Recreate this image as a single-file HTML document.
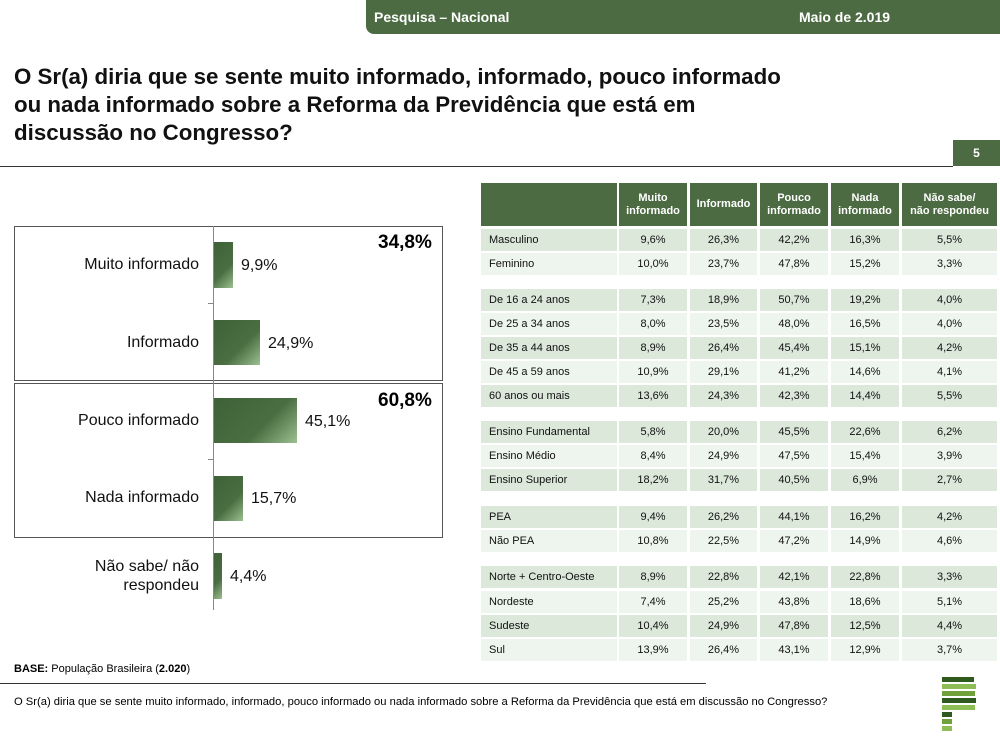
<!DOCTYPE html><html><head><meta charset="utf-8"><style>
body{margin:0;width:1000px;height:736px;position:relative;background:#fff;font-family:"Liberation Sans",sans-serif;overflow:hidden}
.a{position:absolute}
.hdr{left:366px;top:0;width:634px;height:34px;background:#4c6b42;border-bottom-left-radius:8px;color:#fff;font-weight:bold;font-size:14px}
.title{left:14px;top:63px;font-size:22.3px;font-weight:bold;line-height:28px;color:#111}
.bar{background:linear-gradient(135deg,#3f6137 0%,#4a6d42 60%,#9cc08f 100%);}
.lbl{font-size:16px;color:#111;text-align:right;width:185px;left:14px}
.val{font-size:16px;color:#111}
.cell{position:absolute;font-size:11px;color:#111;display:flex;align-items:center;justify-content:center;height:22px}
.hc{position:absolute;background:#4c6b42;color:#fff;font-weight:bold;font-size:11px;display:flex;align-items:center;justify-content:center;text-align:center;top:183px;height:43px;line-height:13px}
</style></head><body>
<div class="a hdr"><span class="a" style="left:8px;top:9px">Pesquisa – Nacional</span><span class="a" style="left:433px;top:9px">Maio de 2.019</span></div>
<div class="a title">O Sr(a) diria que se sente muito informado, informado, pouco informado<br>ou nada informado sobre a Reforma da Previdência que está em<br>discussão no Congresso?</div>
<div class="a" style="left:953px;top:140px;width:47px;height:26px;background:#4c6b42;color:#fff;font-weight:bold;font-size:12px;text-align:center;line-height:26px">5</div>
<div class="a" style="left:0;top:166px;width:953px;height:1px;background:#333"></div>

<div class="a" style="left:14px;top:226px;width:427px;height:153px;border:1px solid #555"></div>
<div class="a" style="left:14px;top:383px;width:427px;height:153px;border:1px solid #555"></div>
<div class="a" style="left:213px;top:226px;width:1px;height:384px;background:#888"></div>
<div class="a" style="left:208px;top:303px;width:5px;height:1px;background:#888"></div>
<div class="a" style="left:208px;top:459px;width:5px;height:1px;background:#888"></div>
<div class="a" style="left:378px;top:232px;font-size:19px;font-weight:bold">34,8%</div>
<div class="a" style="left:378px;top:390px;font-size:19px;font-weight:bold">60,8%</div>

<div class="a lbl" style="top:256px">Muito informado</div>
<div class="a bar" style="left:214px;top:242px;width:19px;height:46px"></div>
<div class="a val" style="left:241px;top:257px">9,9%</div>
<div class="a lbl" style="top:334px">Informado</div>
<div class="a bar" style="left:214px;top:320px;width:46px;height:45px"></div>
<div class="a val" style="left:268px;top:335px">24,9%</div>
<div class="a lbl" style="top:412px">Pouco informado</div>
<div class="a bar" style="left:214px;top:398px;width:83px;height:45px"></div>
<div class="a val" style="left:305px;top:413px">45,1%</div>
<div class="a lbl" style="top:489px">Nada informado</div>
<div class="a bar" style="left:214px;top:476px;width:29px;height:45px"></div>
<div class="a val" style="left:251px;top:490px">15,7%</div>
<div class="a lbl" style="top:557px;line-height:19px">Não sabe/ não<br>respondeu</div>
<div class="a bar" style="left:214px;top:553px;width:8px;height:46px"></div>
<div class="a val" style="left:230px;top:568px">4,4%</div>

<div class="hc" style="left:481px;width:136px"></div>
<div class="hc" style="left:619px;width:68px">Muito<br>informado</div>
<div class="hc" style="left:690px;width:67px">Informado</div>
<div class="hc" style="left:760px;width:68px">Pouco<br>informado</div>
<div class="hc" style="left:831px;width:68px">Nada<br>informado</div>
<div class="hc" style="left:902px;width:95px">Não sabe/<br>não respondeu</div>
<div id="t"></div>
<script>
var rows=[[240,"Masculino","9,6%","26,3%","42,2%","16,3%","5,5%"],[264,"Feminino","10,0%","23,7%","47,8%","15,2%","3,3%"],
[300,"De 16 a 24 anos","7,3%","18,9%","50,7%","19,2%","4,0%"],[324,"De 25 a 34 anos","8,0%","23,5%","48,0%","16,5%","4,0%"],
[348,"De 35 a 44 anos","8,9%","26,4%","45,4%","15,1%","4,2%"],[372,"De 45 a 59 anos","10,9%","29,1%","41,2%","14,6%","4,1%"],
[396,"60 anos ou mais","13,6%","24,3%","42,3%","14,4%","5,5%"],
[432,"Ensino Fundamental","5,8%","20,0%","45,5%","22,6%","6,2%"],[456,"Ensino Médio","8,4%","24,9%","47,5%","15,4%","3,9%"],
[480,"Ensino Superior","18,2%","31,7%","40,5%","6,9%","2,7%"],
[517,"PEA","9,4%","26,2%","44,1%","16,2%","4,2%"],[541,"Não PEA","10,8%","22,5%","47,2%","14,9%","4,6%"],
[577,"Norte + Centro-Oeste","8,9%","22,8%","42,1%","22,8%","3,3%"],[602,"Nordeste","7,4%","25,2%","43,8%","18,6%","5,1%"],
[626,"Sudeste","10,4%","24,9%","47,8%","12,5%","4,4%"],[650,"Sul","13,9%","26,4%","43,1%","12,9%","3,7%"]];
var cols=[[481,136],[619,68],[690,67],[760,68],[831,68],[902,95]];
var odd=[0,2,4,6,7,9,10,12,14];
var h="";rows.forEach(function(r,i){var bg=(odd.indexOf(i)>=0)?"#dbe8da":"#eef5ee";
cols.forEach(function(c,j){h+='<div class="cell" style="left:'+c[0]+'px;width:'+c[1]+'px;top:'+(r[0]-11)+'px;background:'+bg+';'+(j==0?'justify-content:flex-start;padding-left:8px;box-sizing:border-box;':'')+'">'+r[j+1]+'</div>';});});
document.getElementById("t").innerHTML=h;
</script>
<div class="a" style="left:14px;top:663px;font-size:11px"><b>BASE:</b> População Brasileira (<b>2.020</b>)</div>
<div class="a" style="left:0;top:683px;width:706px;height:1px;background:#333"></div>
<div class="a" style="left:14px;top:696px;font-size:11.2px">O Sr(a) diria que se sente muito informado, informado, pouco informado ou nada informado sobre a Reforma da Previdência que está em discussão no Congresso?</div>
<div class="a" style="left:942px;top:677px;width:32px;height:5px;background:#2f5a1e"></div>
<div class="a" style="left:942px;top:684px;width:34px;height:5px;background:#8fbd55"></div>
<div class="a" style="left:942px;top:691px;width:33px;height:5px;background:#6fa23a"></div>
<div class="a" style="left:942px;top:698px;width:34px;height:5px;background:#2f5a1e"></div>
<div class="a" style="left:942px;top:705px;width:33px;height:5px;background:#8fbd55"></div>
<div class="a" style="left:942px;top:712px;width:10px;height:5px;background:#2f5a1e"></div>
<div class="a" style="left:942px;top:719px;width:10px;height:5px;background:#6fa23a"></div>
<div class="a" style="left:942px;top:726px;width:10px;height:5px;background:#8fbd55"></div>
</body></html>
